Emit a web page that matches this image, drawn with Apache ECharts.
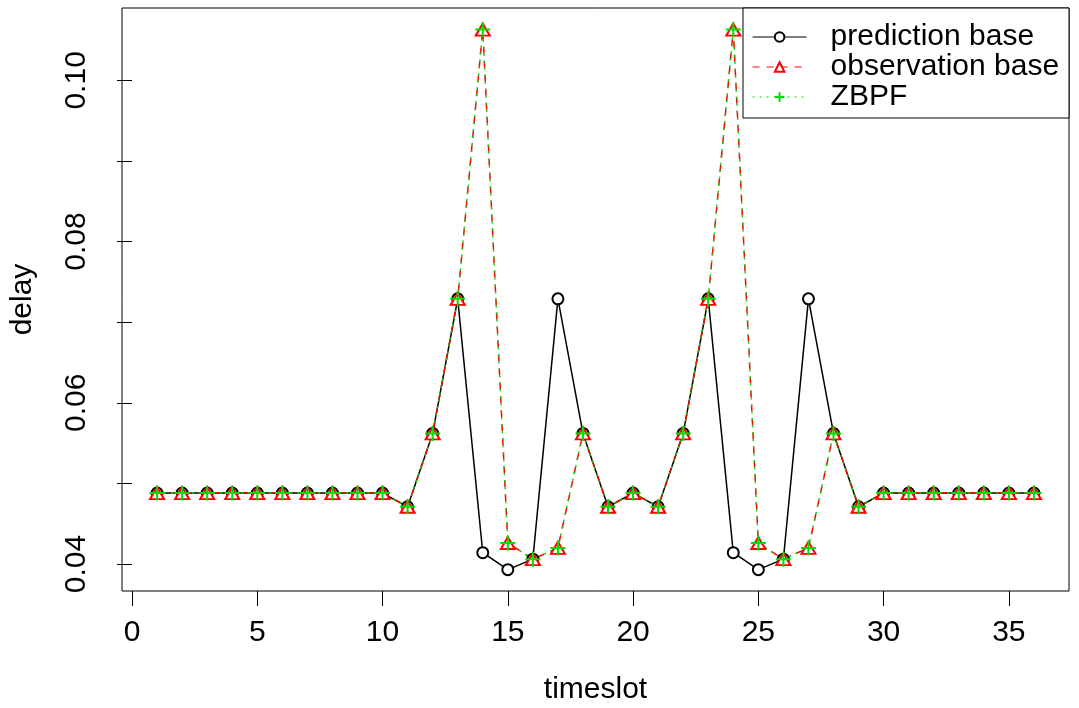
<!DOCTYPE html>
<html>
<head>
<meta charset="utf-8">
<script src="https://cdn.jsdelivr.net/npm/echarts@6/dist/echarts.min.js"></script>
<style>
html,body{margin:0;padding:0;background:#fff;}
#chart{width:1079px;height:708px;}
</style>
</head>
<body>
<div id="chart"></div>
<script>
var timeslots = [1,2,3,4,5,6,7,8,9,10,11,12,13,14,15,16,17,18,19,20,21,22,23,24,25,26,27,28,29,30,31,32,33,34,35,36];
var predictionBase = [0.0488,0.0488,0.0488,0.0488,0.0488,0.0488,0.0488,0.0488,0.0488,0.0488,0.0471,0.0562,0.0729,0.0414,0.0393,0.0406,0.0729,0.0562,0.0471,0.0488,0.0471,0.0562,0.0729,0.0414,0.0393,0.0406,0.0729,0.0562,0.0471,0.0488,0.0488,0.0488,0.0488,0.0488,0.0488,0.0488];
var observationBase = [0.0488,0.0488,0.0488,0.0488,0.0488,0.0488,0.0488,0.0488,0.0488,0.0488,0.0471,0.0562,0.0729,0.1063,0.0426,0.0406,0.0420,0.0562,0.0471,0.0488,0.0471,0.0562,0.0729,0.1063,0.0426,0.0406,0.0420,0.0562,0.0471,0.0488,0.0488,0.0488,0.0488,0.0488,0.0488,0.0488];
var zbpf = [0.0488,0.0488,0.0488,0.0488,0.0488,0.0488,0.0488,0.0488,0.0488,0.0488,0.0471,0.0562,0.0729,0.1063,0.0426,0.0406,0.0420,0.0562,0.0471,0.0488,0.0471,0.0562,0.0729,0.1063,0.0426,0.0406,0.0420,0.0562,0.0471,0.0488,0.0488,0.0488,0.0488,0.0488,0.0488,0.0488];
var xTicks = [0,5,10,15,20,25,30,35];
var yTicks = [0.04,0.05,0.06,0.07,0.08,0.09,0.10];
var yLabels = [0.04,0.06,0.08,0.10];
var seriesNames = ['prediction base','observation base','ZBPF'];

function pairs(vals){ return timeslots.map(function(t,i){ return [t, vals[i]]; }); }

var FONT = '"Liberation Sans", Arial, Helvetica, sans-serif';
var chart = echarts.init(document.getElementById('chart'), null, {renderer:'canvas'});
var plusPath = 'emptypath://M0,5L10,5M5,0L5,10';

chart.setOption({
  animation: false,
  backgroundColor: '#fff',
  grid: {left:122, right:10, top:8, bottom:117, show:true, borderColor:'#000', borderWidth:1, containLabel:false, outerBoundsMode:'none'},
  xAxis: {
    type:'value', min:-0.4, max:37.4,
    name:'timeslot', nameLocation:'middle', nameGap:84,
    nameTextStyle:{fontFamily:FONT, fontSize:30, color:'#000'},
    axisLine:{show:false},
    splitLine:{show:false},
    axisTick:{show:true, length:15, lineStyle:{color:'#000', width:1}, customValues:xTicks},
    axisLabel:{fontFamily:FONT, fontSize:30, color:'#000', margin:27, customValues:xTicks}
  },
  yAxis: {
    type:'value', min:0.03665, max:0.10898,
    name:'delay', nameLocation:'middle', nameGap:84,
    nameTextStyle:{fontFamily:FONT, fontSize:30, color:'#000'},
    axisLine:{show:false},
    splitLine:{show:false},
    axisTick:{show:true, length:15, lineStyle:{color:'#000', width:1}, customValues:yTicks},
    axisLabel:{fontFamily:FONT, fontSize:30, color:'#000', margin:30, rotate:90, customValues:yLabels,
      formatter:function(v){ return v.toFixed(2); }}
  },
  legend: {
    orient:'vertical', left:752, top:22, padding:0, itemGap:0, itemWidth:54, itemHeight:12, z:10,
    data: seriesNames,
    itemStyle:{borderWidth:1.2},
    lineStyle:{width:1.2},
    textStyle:{fontFamily:FONT, fontSize:30, color:'#000', lineHeight:27, padding:[0,0,0,19]}
  },
  graphic: [{type:'rect', z:3, shape:{x:743, y:8, width:326, height:110}, style:{fill:'#fff', stroke:'#000', lineWidth:1}}],
  series: [
    {name:seriesNames[0], type:'line', data:pairs(predictionBase), symbol:'emptyCircle', symbolSize:11,
      lineStyle:{color:'#000', width:1.5, type:'solid'}, itemStyle:{color:'#000', borderColor:'#000', borderWidth:1.3}, z:2},
    {name:seriesNames[1], type:'line', data:pairs(observationBase), symbol:'emptyTriangle', symbolSize:[14,12],
      lineStyle:{color:'#ff0000', width:1.5, type:[7,7]}, itemStyle:{color:'#ff0000', borderColor:'#ff0000', borderWidth:1.5}, z:2},
    {name:seriesNames[2], type:'line', data:pairs(zbpf), symbol:plusPath, symbolSize:15,
      lineStyle:{color:'#00dd00', width:1.5, type:[2,5]}, itemStyle:{color:'#00dd00', borderColor:'#00dd00', borderWidth:1.8}, z:2}
  ]
});
</script>
</body>
</html>
